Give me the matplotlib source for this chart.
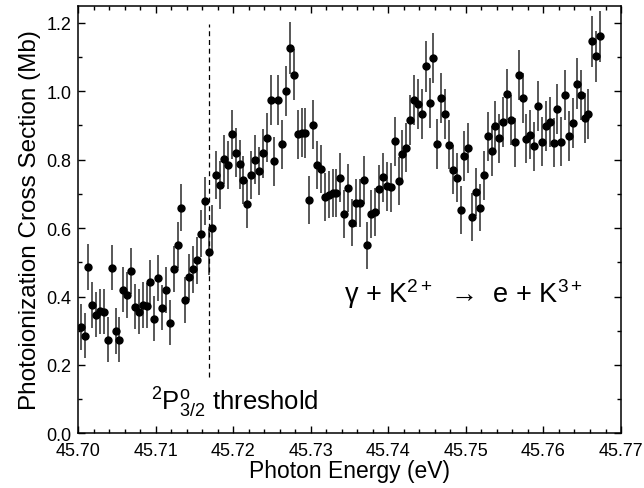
import matplotlib
matplotlib.use("Agg")
import matplotlib.pyplot as plt
from matplotlib.ticker import MultipleLocator, FormatStrFormatter

plt.rcParams["font.family"] = ["Liberation Sans", "DejaVu Sans"]
plt.rcParams["mathtext.fontset"] = "custom"
plt.rcParams["mathtext.rm"] = "Liberation Sans"
plt.rcParams["mathtext.it"] = "Liberation Sans:italic"

# photon energy grid of the scan (eV)
energy = [
    45.7003, 45.7008, 45.7013, 45.7018, 45.7023, 45.7028, 45.7033, 45.7038, 45.7043, 45.7048,
    45.7053, 45.7058, 45.7063, 45.7068, 45.7073, 45.7078, 45.7083, 45.7088, 45.7093, 45.7098,
    45.7103, 45.7108, 45.7113, 45.7118, 45.7123, 45.7128, 45.7133, 45.7138, 45.7143, 45.7148,
    45.7153, 45.7158, 45.7163, 45.7168, 45.7173, 45.7178, 45.7183, 45.7188, 45.7193, 45.7198,
    45.7203, 45.7208, 45.7213, 45.7218, 45.7223, 45.7228, 45.7233, 45.7238, 45.7243, 45.7248,
    45.7253, 45.7258, 45.7263, 45.7268, 45.7273, 45.7278, 45.7283, 45.7288, 45.7293, 45.7298,
    45.7303, 45.7308, 45.7313, 45.7318, 45.7323, 45.7328, 45.7333, 45.7338, 45.7343, 45.7348,
    45.7353, 45.7358, 45.7363, 45.7368, 45.7373, 45.7378, 45.7383, 45.7388, 45.7393, 45.7398,
    45.7403, 45.7408, 45.7413, 45.7418, 45.7423, 45.7428, 45.7433, 45.7438, 45.7443, 45.7448,
    45.7453, 45.7458, 45.7463, 45.7468, 45.7473, 45.7478, 45.7483, 45.7488, 45.7493, 45.7498,
    45.7503, 45.7508, 45.7513, 45.7518, 45.7523, 45.7528, 45.7533, 45.7538, 45.7543, 45.7548,
    45.7553, 45.7558, 45.7563, 45.7568, 45.7573, 45.7578, 45.7583, 45.7588, 45.7593, 45.7598,
    45.7603, 45.7608, 45.7613, 45.7618, 45.7623, 45.7628, 45.7633, 45.7638, 45.7643, 45.7648,
    45.7653, 45.7658, 45.7663, 45.7668, 45.7673,
]

# cross section (Mb)
sigma = [
    0.311, 0.285, 0.487, 0.375, 0.347, 0.357, 0.355, 0.274, 0.484, 0.300,
    0.274, 0.420, 0.404, 0.474, 0.370, 0.355, 0.375, 0.373, 0.441, 0.335,
    0.453, 0.367, 0.420, 0.324, 0.480,
    0.550, 0.659, 0.389, 0.457, 0.479, 0.506, 0.584, 0.678, 0.530, 0.599,
    0.756, 0.725, 0.801, 0.784, 0.874, 0.820, 0.786, 0.740, 0.670, 0.755,
    0.800, 0.767, 0.818, 0.864, 0.974, 0.795, 0.974, 0.845, 1.000, 1.126,
    1.048, 0.874, 0.879, 0.878, 0.681, 0.902, 0.784, 0.772, 0.691, 0.698,
    0.703, 0.703, 0.747, 0.640, 0.717, 0.616, 0.674, 0.674, 0.740, 0.550,
    0.642, 0.647, 0.713, 0.748, 0.722, 0.719, 0.853, 0.737, 0.816, 0.835,
    0.915, 0.973, 0.962, 0.934, 1.073, 0.966, 1.097, 0.846, 0.980, 0.932,
    0.844, 0.771, 0.747, 0.654, 0.811, 0.834, 0.633, 0.706, 0.660, 0.754,
    0.868, 0.825, 0.899, 0.862, 0.909, 0.991, 0.915, 0.851, 1.047, 0.981,
    0.861, 0.873, 0.839, 0.957, 0.852, 0.898, 0.910, 0.850, 0.947, 0.852,
    0.988, 0.869, 0.908, 1.022, 0.988, 0.922, 0.933, 1.146, 1.102, 1.160,
]

# statistical uncertainty (Mb)
sigma_err = [
    0.067, 0.066, 0.067, 0.066, 0.066, 0.066, 0.066, 0.066, 0.066, 0.067,
    0.066, 0.066, 0.067, 0.067, 0.066, 0.066, 0.066, 0.066, 0.067, 0.066,
    0.067, 0.066, 0.067, 0.066, 0.067,
    0.068, 0.069, 0.067, 0.068, 0.068, 0.068, 0.069, 0.070, 0.068, 0.069,
    0.070, 0.070, 0.071, 0.070, 0.072, 0.071, 0.071, 0.070, 0.070, 0.070,
    0.071, 0.070, 0.071, 0.072, 0.073, 0.071, 0.073, 0.072, 0.073, 0.075,
    0.074, 0.072, 0.072, 0.072, 0.070, 0.072, 0.071, 0.070, 0.070, 0.070,
    0.070, 0.070, 0.071, 0.070, 0.070, 0.069, 0.070, 0.070, 0.071, 0.069,
    0.070, 0.070, 0.071, 0.071, 0.071, 0.071, 0.072, 0.071, 0.072, 0.072,
    0.073, 0.073, 0.073, 0.073, 0.074, 0.073, 0.074, 0.072, 0.073, 0.073,
    0.072, 0.071, 0.071, 0.070, 0.072, 0.072, 0.070, 0.071, 0.070, 0.071,
    0.072, 0.072, 0.073, 0.072, 0.073, 0.074, 0.073, 0.072, 0.074, 0.073,
    0.072, 0.072, 0.072, 0.073, 0.072, 0.073, 0.073, 0.072, 0.073, 0.072,
    0.073, 0.072, 0.073, 0.074, 0.073, 0.073, 0.073, 0.075, 0.075, 0.075,
]

threshold_energy = 45.7169
threshold_span = (0.165, 1.195)

fig = plt.figure(figsize=(6.44, 4.89), dpi=100)
ax = fig.add_axes([0.1216, 0.1117, 0.8427, 0.8747])

ax.errorbar(energy, sigma, yerr=sigma_err, fmt="o", color="black", ms=5,
            ecolor="#2a2a2a", elinewidth=1.1, capsize=0)
ax.vlines(threshold_energy, *threshold_span, colors="black", linestyles=(0, (4, 3)), lw=0.9)

ax.text(45.7094, 0.092, r"$^{2}$P$^{\rm o}_{3/2}$ threshold", fontsize=18.5, va="center", ha="left")
ax.text(45.7343, 0.41, "\u03b3 + K$^{2+}$  \u2192  e + K$^{3+}$", fontsize=19.5,
        va="center", ha="left")

ax.set_xlim(45.70, 45.77)
ax.set_ylim(0.0, 1.25)
ax.xaxis.set_major_locator(MultipleLocator(0.01))
ax.xaxis.set_minor_locator(MultipleLocator(0.002))
ax.yaxis.set_major_locator(MultipleLocator(0.2))
ax.yaxis.set_minor_locator(MultipleLocator(0.1))
ax.xaxis.set_major_formatter(FormatStrFormatter("%.2f"))
ax.yaxis.set_major_formatter(FormatStrFormatter("%.1f"))
ax.tick_params(which="both", direction="in", top=True, right=True, labelsize=13, width=1)
ax.tick_params(which="major", length=5)
ax.tick_params(which="minor", length=3)
ax.tick_params(axis="x", which="major", pad=6.5)
ax.tick_params(axis="y", which="major", pad=5)
for sp in ax.spines.values():
    sp.set_linewidth(1.1)

ax.set_xlabel("Photon Energy (eV)", fontsize=16.5, labelpad=0)
ax.set_ylabel("Photoionization Cross Section (Mb)", fontsize=17.5, labelpad=4)

fig.savefig("out.png", dpi=100)
